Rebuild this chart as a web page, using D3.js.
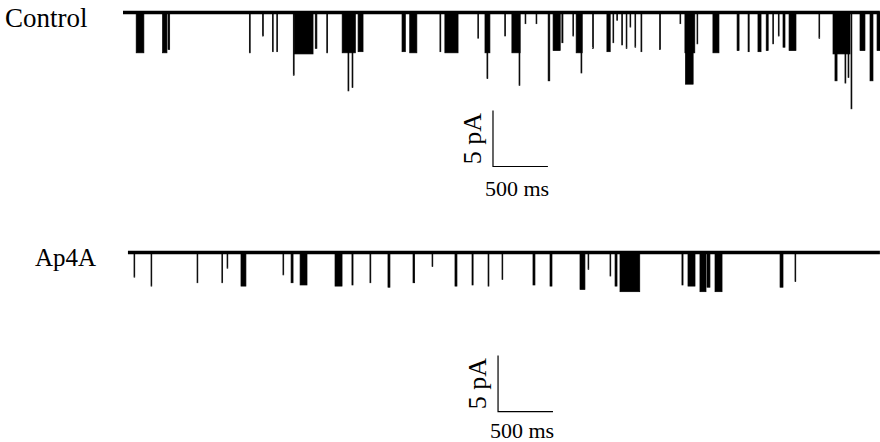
<!DOCTYPE html>
<html><head><meta charset="utf-8">
<script src="https://cdn.jsdelivr.net/npm/d3@7"></script>
<style>body{margin:0;background:#fff}svg{display:block}</style>
</head><body>
<svg id="chart" width="880" height="442"></svg>
<script>
// ---- data ----
const traceNames = ["Control", "Ap4A"];
const controlSpan = [0, 6890];   // ms
const ap4aSpan = [45, 6890];     // ms
// openings: [start ms, duration ms, amplitude pA]
const controlEvents = [
  [120, 70, -3.6], [360, 40, -3.6], [410, 15, -3.3], [1150, 8, -3.6], [1270, 5, -2.1],
  [1360, 6, -3.5], [1400, 6, -3.5], [1550, 8, -5.6], [1560, 170, -3.7], [1711, 15, -3.6],
  [1750, 15, -3.2], [1855, 8, -3.6], [1995, 120, -3.6], [2048, 8, -7.0], [2085, 8, -6.7],
  [2140, 45, -3.5], [2540, 30, -3.5], [2610, 65, -3.6], [2885, 8, -3.5], [2930, 120, -3.6],
  [3230, 6, -2.3], [3295, 45, -3.6], [3313, 8, -5.9], [3475, 6, -2.1], [3540, 75, -3.6],
  [3605, 8, -6.5], [3660, 5, -1.0], [3760, 5, -1.0], [3870, 15, -6.1], [3915, 65, -3.4],
  [3995, 10, -2.7], [4095, 6, -2.1], [4125, 55, -3.6], [4169, 8, -5.4], [4275, 6, -3.2],
  [4405, 30, -3.5], [4460, 6, -2.7], [4495, 5, -0.7], [4540, 6, -2.9], [4580, 6, -3.2],
  [4615, 5, -1.3], [4660, 6, -3.1], [4715, 8, -3.5], [4885, 6, -3.3], [5070, 5, -1.0],
  [5115, 90, -3.6], [5120, 70, -6.4], [5225, 6, -2.8], [5370, 55, -3.6], [5590, 18, -3.4],
  [5690, 10, -3.5], [5780, 28, -3.5], [5855, 18, -3.4], [5915, 6, -2.8], [5965, 6, -2.1],
  [6008, 18, -3.1], [6063, 63, -3.4], [6335, 6, -2.3], [6463, 155, -3.7], [6481, 19, -6.1],
  [6572, 8, -6.3], [6600, 8, -5.8], [6627, 8, -8.6], [6709, 45, -3.4], [6800, 27, -6.1],
  [6864, 27, -3.4]
];
const ap4aEvents = [
  [100, 6, -2.2], [255, 6, -3.0], [674, 6, -2.7], [900, 6, -2.7], [947, 5, -1.4],
  [1074, 45, -3.0], [1456, 6, -2.0], [1530, 18, -2.7], [1612, 63, -2.9], [1930, 64, -3.0],
  [2084, 10, -2.9], [2248, 8, -2.7], [2412, 18, -3.1], [2640, 15, -2.7], [2813, 5, -1.25],
  [3022, 18, -3.0], [3177, 10, -2.9], [3323, 8, -3.0], [3450, 6, -2.4], [3732, 18, -2.9],
  [3887, 18, -3.0], [4160, 45, -3.3], [4233, 5, -1.5], [4433, 6, -2.1], [4479, 18, -3.0],
  [4524, 180, -3.5], [5088, 10, -2.9], [5143, 64, -3.0], [5252, 55, -3.5], [5316, 27, -3.1],
  [5389, 64, -3.5], [5981, 27, -3.1], [6117, 6, -2.6]
];
const scaleCurrent = 5;    // pA
const scaleTime = 500;     // ms
const scaleLabels = ["5 pA", "500 ms"];
// scale-bar corner positions in data coords [ms, pA]
const controlBarCorner = [3368, -13.75];
const ap4aBarCorner = [3414, -14.2];

// ---- drawing ----
const svg = d3.select("#chart");
const x = d3.scaleLinear().domain([0, 6900]).range([123, 881]);
const yC = d3.scaleLinear().domain([0, -1]).range([12.5, 23.7]);
const yA = d3.scaleLinear().domain([0, -1]).range([252.5, 263.7]);
const font = "'Liberation Serif','Times New Roman',serif";

function drawTrace(span, events, y) {
  const g = svg.append("g");
  g.append("line")
    .attr("x1", x(span[0])).attr("x2", x(span[1]))
    .attr("y1", y(0)).attr("y2", y(0))
    .attr("stroke", "#000").attr("stroke-width", 3.4);
  g.selectAll("rect").data(events).join("rect")
    .attr("x", d => x(d[0]))
    .attr("width", d => Math.max(x(d[0] + d[1]) - x(d[0]), 0.8))
    .attr("y", y(0))
    .attr("height", d => y(d[2]) - y(0))
    .attr("fill", "#000").attr("stroke", "#000").attr("stroke-width", 0.7);
}
drawTrace(controlSpan, controlEvents, yC);
drawTrace(ap4aSpan, ap4aEvents, yA);

function drawBar(corner, y, textDy) {
  const cx = x(corner[0]), cy = y(corner[1]);
  const top = y(corner[1] + scaleCurrent);
  const right = x(corner[0] + scaleTime);
  svg.append("path")
    .attr("d", `M${cx},${top}V${cy}H${right}`)
    .attr("fill", "none").attr("stroke", "#000").attr("stroke-width", 1.2);
  svg.append("text")
    .attr("transform", `translate(${cx - 12},${(top + cy) / 2}) rotate(-90)`)
    .attr("text-anchor", "middle")
    .attr("font-family", font).attr("font-size", 26)
    .text(scaleLabels[0]);
  svg.append("text")
    .attr("x", cx + 24).attr("y", cy + textDy)
    .attr("text-anchor", "middle")
    .attr("font-family", font).attr("font-size", 22)
    .text(scaleLabels[1]);
}
drawBar(controlBarCorner, yC, 29);
drawBar(ap4aBarCorner, yA, 26);

svg.append("text").attr("x", 5).attr("y", 27)
  .attr("font-family", font).attr("font-size", 27).text(traceNames[0]);
svg.append("text").attr("x", 35).attr("y", 266)
  .attr("font-family", font).attr("font-size", 25).text(traceNames[1]);
</script>
</body></html>
